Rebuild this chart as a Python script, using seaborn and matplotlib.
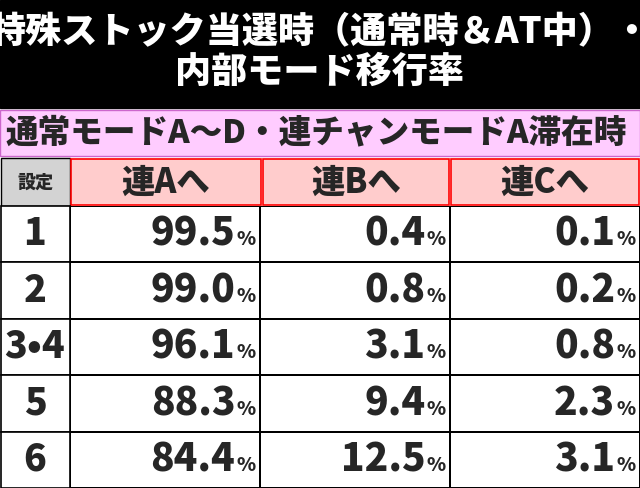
import matplotlib
matplotlib.use("Agg")
import matplotlib.pyplot as plt
import numpy as np
import seaborn as sns
from matplotlib.patches import Rectangle

sns.set_theme(style="white")
plt.rcParams["font.family"] = ["Noto Sans CJK JP", "DejaVu Sans"]
BW = 900

title = "特殊ストック当選時（通常時＆AT中）・\n内部モード移行率"
subtitle = "通常モードA～D・連チャンモードA滞在時"
settings = ["1", "2", "3•4", "5", "6"]
columns = ["連Aへ", "連Bへ", "連Cへ"]
to_a = [99.5, 99.0, 96.1, 88.3, 84.4]
to_b = [0.4, 0.8, 3.1, 9.4, 12.5]
to_c = [0.1, 0.2, 0.8, 2.3, 3.1]

W, H = 640, 488
fig = plt.figure(figsize=(6.4, 4.88), dpi=100)
bg = fig.add_axes([0, 0, 1, 1])
bg.set_xlim(0, W); bg.set_ylim(H, 0); bg.axis("off")

# title band
bg.add_patch(Rectangle((0, 0), W, 108, color="black"))
bg.text(W / 2, 52, title, color="white", ha="center", va="center",
        fontsize=26, fontweight=BW, linespacing=1.15)
# subtitle row
bg.add_patch(Rectangle((0, 110), W, 46, facecolor="#ffccff", edgecolor="#cc66cc", lw=1))
bg.text(6, 133, subtitle, ha="left", va="center", fontsize=23.5, fontweight=BW)

# header row
top, hdr_h = 158, 48
xs = [0, 70, 262, 450, 640]
bg.add_patch(Rectangle((1, top), 69, hdr_h, facecolor="#d3d3d3", edgecolor="black", lw=1))
bg.text(35, top + hdr_h / 2, "設定", ha="center", va="center", fontsize=13, fontweight=BW)
for i, c in enumerate(columns):
    bg.add_patch(Rectangle((xs[i + 1] + 1, top + 1), xs[i + 2] - xs[i + 1] - 2, hdr_h - 2,
                           facecolor="#ffcccc", edgecolor="red", lw=1.2))
    bg.text((xs[i + 1] + xs[i + 2]) / 2, top + hdr_h / 2, c, ha="center", va="center",
            fontsize=24, fontweight=BW)

# data cells via heatmap
vals = np.array([to_a, to_b, to_c]).T
y0 = top + hdr_h
ax = fig.add_axes([70 / W, 0, (W - 70) / W, (H - y0) / H])
sns.heatmap(np.zeros_like(vals), cmap=["white"], cbar=False, linewidths=1.2,
            linecolor="black", ax=ax, xticklabels=False, yticklabels=False)
for r in range(vals.shape[0]):
    for c in range(vals.shape[1]):
        xr = c + 0.87
        ax.text(xr, r + 0.5, f"{vals[r, c]:.1f}", ha="right", va="center",
                fontsize=28, fontweight=BW)
        ax.text(xr + 0.005, r + 0.6, "%", ha="left", va="center", fontsize=14, fontweight=BW)

# settei column
row_h = (H - y0) / len(settings)
for r, s in enumerate(settings):
    yy = y0 + r * row_h
    bg.add_patch(Rectangle((1, yy), 69, row_h, facecolor="white", edgecolor="black", lw=1.2))
    bg.text(35, yy + row_h / 2, s, ha="center", va="center", fontsize=27, fontweight=BW)

fig.savefig("out.png", dpi=100)
